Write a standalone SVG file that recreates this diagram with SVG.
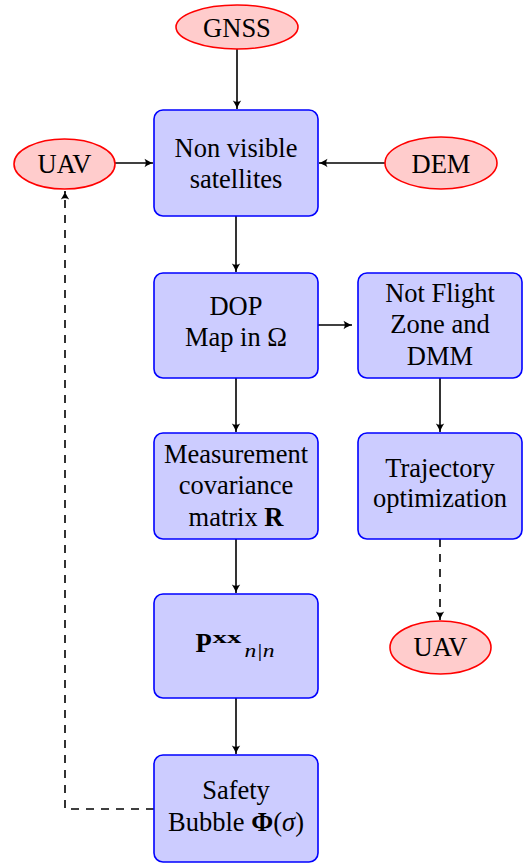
<svg xmlns="http://www.w3.org/2000/svg" width="531" height="865" viewBox="0 0 531 865">
<style>
  .box { fill: #ccccff; stroke: #0000ff; stroke-width: 1.6; }
  .ell { fill: #ffcccc; stroke: #ff0000; stroke-width: 1.6; }
  text { font-family: "Liberation Serif", "Times New Roman", serif; font-size: 26.5px; fill: #000; text-anchor: middle; }
  .c { fill: none; stroke: #000; stroke-width: 1.6; }
  .d { stroke-dasharray: 8 7; }
  .b { font-weight: bold; }
  .i { font-style: italic; }
  .s { text-anchor: start; }
</style>
<defs>
  <marker id="ah" markerWidth="12" markerHeight="12" refX="10" refY="6" orient="auto" markerUnits="userSpaceOnUse">
    <path d="M1.5,1.8 Q7,5.3 10,6 Q7,6.7 1.5,10.2 Q4,6 1.5,1.8Z" fill="#000"/>
  </marker>
</defs>

<g id="connectors">
  <line class="c" x1="237" y1="49" x2="237" y2="109" marker-end="url(#ah)"/>
  <line class="c" x1="115" y1="163" x2="153" y2="163" marker-end="url(#ah)"/>
  <line class="c" x1="385" y1="163" x2="319" y2="163" marker-end="url(#ah)"/>
  <line class="c" x1="236" y1="216" x2="236" y2="272" marker-end="url(#ah)"/>
  <line class="c" x1="318" y1="325" x2="352" y2="325" marker-end="url(#ah)"/>
  <line class="c" x1="440" y1="378" x2="440" y2="432" marker-end="url(#ah)"/>
  <line class="c" x1="236" y1="378" x2="236" y2="432" marker-end="url(#ah)"/>
  <line class="c" x1="236" y1="539" x2="236" y2="593" marker-end="url(#ah)"/>
  <line class="c" x1="236" y1="698" x2="236" y2="754" marker-end="url(#ah)"/>
  <line class="c d" x1="440" y1="539" x2="440" y2="620" marker-end="url(#ah)"/>
  <polyline class="c d" points="154,809 65,809 65,191" marker-end="url(#ah)"/>
</g>

<g id="gnss">
  <ellipse class="ell" cx="237" cy="27" rx="61" ry="22"/>
  <text x="237" y="37">GNSS</text>
</g>
<g id="uav-left">
  <ellipse class="ell" cx="64.5" cy="164" rx="50.5" ry="25"/>
  <text x="64.5" y="173">UAV</text>
</g>
<g id="dem">
  <ellipse class="ell" cx="441" cy="163" rx="56" ry="26"/>
  <text x="441" y="173">DEM</text>
</g>
<g id="nonvisible">
  <rect class="box" x="154" y="110" width="164" height="106" rx="9"/>
  <text x="236" y="157">Non visible</text>
  <text x="236" y="188">satellites</text>
</g>
<g id="dop">
  <rect class="box" x="154" y="273" width="164" height="105" rx="9"/>
  <text x="236" y="315">DOP</text>
  <text x="236" y="346">Map in Ω</text>
</g>
<g id="notflight">
  <rect class="box" x="358" y="273" width="164" height="105" rx="9"/>
  <text x="440" y="302">Not Flight</text>
  <text x="440" y="333">Zone and</text>
  <text x="440" y="365">DMM</text>
</g>
<g id="measurement">
  <rect class="box" x="154" y="433" width="164" height="106" rx="9"/>
  <text x="236" y="463">Measurement</text>
  <text x="236" y="494">covariance</text>
  <text x="236" y="526">matrix <tspan class="b">R</tspan></text>
</g>
<g id="trajectory">
  <rect class="box" x="358" y="433" width="164" height="106" rx="9"/>
  <text x="440" y="477">Trajectory</text>
  <text x="440" y="507">optimization</text>
</g>
<g id="pxx">
  <rect class="box" x="154" y="594" width="164" height="104" rx="9"/>
  <text x="195.5" y="651.5" class="b s">P</text>
  <text x="212.5" y="643" class="b s" style="font-size:17px" textLength="29" lengthAdjust="spacingAndGlyphs">xx</text>
  <text x="244.5" y="656.5" class="i s" style="font-size:18px" textLength="30" lengthAdjust="spacingAndGlyphs">n|n</text>
</g>
<g id="uav-right">
  <ellipse class="ell" cx="440.5" cy="647.5" rx="50.5" ry="26.5"/>
  <text x="440.5" y="656">UAV</text>
</g>
<g id="safety">
  <rect class="box" x="154" y="755" width="164" height="107" rx="9"/>
  <text x="236" y="799">Safety</text>
  <text x="236" y="831">Bubble <tspan class="b">Φ</tspan>(<tspan class="i">σ</tspan>)</text>
</g>
</svg>
